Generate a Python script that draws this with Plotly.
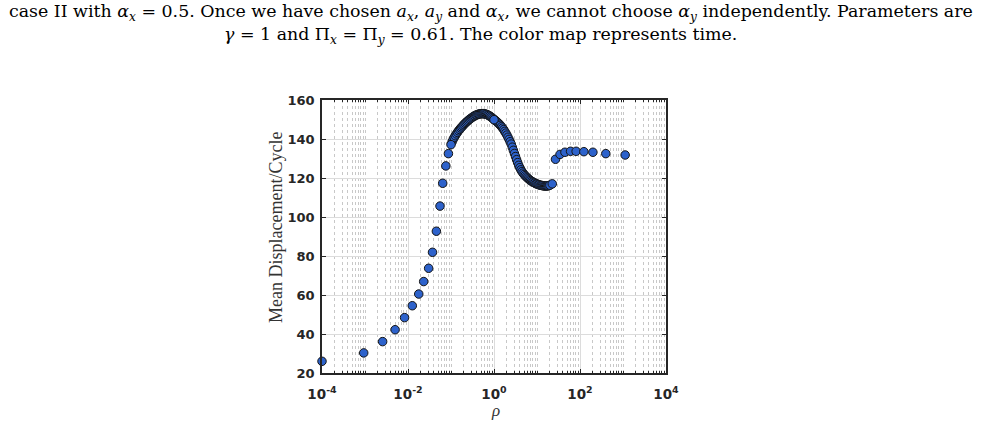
import plotly.graph_objects as go

# ---- data ----
# coarse / isolated points: log10(rho) and mean displacement per cycle
coarse_log_rho = [-4.0, -3.03, -2.59, -2.30, -2.08, -1.90, -1.75, -1.635, -1.52, -1.43,
                  -1.34, -1.256, -1.193, -1.12, -1.06, -1.0, 0.0, 1.355,
                  1.43, 1.535, 1.65, 1.78, 1.91, 2.09, 2.30, 2.60, 3.05]
coarse_disp = [26.0, 30.3, 36.1, 42.2, 48.4, 54.5, 60.5, 66.9, 73.7, 81.9,
               92.7, 105.6, 117.3, 126.2, 132.5, 137.1, 149.9, 117.0,
               129.6, 132.1, 133.2, 133.7, 133.7, 133.5, 133.2, 132.5, 131.8]

# dense part of the sweep
dense_log_rho = [-0.975, -0.95, -0.925, -0.9, -0.875, -0.85, -0.825, -0.8, -0.775, -0.75,
                 -0.725, -0.7, -0.675, -0.65, -0.625, -0.6, -0.575, -0.55, -0.525, -0.5,
                 -0.475, -0.45, -0.425, -0.4, -0.375, -0.35, -0.325, -0.3, -0.275, -0.25,
                 -0.225, -0.2, -0.175, -0.15, -0.125, -0.1, -0.075, -0.05, -0.025, 0.0,
                 0.025, 0.05, 0.075, 0.1, 0.125, 0.15, 0.175, 0.2, 0.225, 0.25,
                 0.275, 0.3, 0.325, 0.35, 0.375, 0.4, 0.425, 0.45, 0.475, 0.5,
                 0.525, 0.55, 0.575, 0.6, 0.625, 0.65, 0.675, 0.7, 0.725, 0.75,
                 0.775, 0.8, 0.825, 0.85, 0.875, 0.9, 0.925, 0.95, 0.975, 1.0,
                 1.025, 1.05, 1.075, 1.1, 1.125, 1.15, 1.175, 1.2, 1.225, 1.25,
                 1.275, 1.3]
dense_disp = [138.5, 139.8, 140.8, 141.7, 142.6, 143.4, 144.2, 144.9, 145.6, 146.2,
              146.8, 147.4, 148.0, 148.5, 149.0, 149.5, 150.0, 150.4, 150.8, 151.2,
              151.6, 151.9, 152.2, 152.4, 152.6, 152.8, 152.9, 153.0, 153.0, 153.0,
              152.9, 152.8, 152.6, 152.4, 152.1, 151.8, 151.4, 151.0, 150.5, 150.0,
              149.6, 149.2, 148.7, 148.2, 147.6, 147.0, 146.3, 145.6, 144.8, 143.9,
              143.0, 142.0, 140.9, 139.8, 138.6, 137.4, 135.8, 134.2, 132.6, 131.0,
              129.4, 127.9, 126.5, 125.3, 124.2, 123.3, 122.5, 121.8, 121.2, 120.6,
              120.1, 119.6, 119.1, 118.7, 118.3, 118.0, 117.7, 117.4, 117.1, 116.9,
              116.7, 116.5, 116.3, 116.2, 116.1, 116.0, 115.9, 115.9, 115.9, 116.0,
              116.1, 116.3]

y_ticks = [20, 40, 60, 80, 100, 120, 140, 160]
x_tick_exps = [-4, -2, 0, 2, 4]

caption_line1 = ("case II with <i>α<sub>x</sub></i> = 0.5. Once we have chosen "
                 "<i>a<sub>x</sub></i>, <i>a<sub>y</sub></i> and <i>α<sub>x</sub></i>, "
                 "we cannot choose <i>α<sub>y</sub></i> independently. Parameters are")
caption_line2 = ("<i>γ</i> = 1 and Π<sub><i>x</i></sub> = Π<sub><i>y</i></sub> = 0.61. "
                 "The color map represents time.")
y_title = "Mean Displacement/Cycle"
x_title = "<i>ρ</i>"

dense_rho = [10 ** e for e in dense_log_rho]
coarse_rho = [10 ** e for e in coarse_log_rho]

fill = "#2D62CB"
edge = "#141414"

fig = go.Figure()
fig.add_trace(go.Scatter(x=dense_rho, y=dense_disp, mode="markers", cliponaxis=False,
                         marker=dict(size=8.5, color=fill, line=dict(color=edge, width=1)),
                         showlegend=False, hoverinfo="x+y"))
fig.add_trace(go.Scatter(x=coarse_rho, y=coarse_disp, mode="markers", cliponaxis=False,
                         marker=dict(size=8.5, color=fill, line=dict(color=edge, width=1)),
                         showlegend=False, hoverinfo="x+y"))

axis_col = "#262626"
tickfont = dict(family="DejaVu Sans", size=13, color=axis_col, weight="bold")

fig.update_xaxes(type="log", range=[-4, 4],
                 tickvals=[10 ** e for e in x_tick_exps],
                 ticktext=[f"10<sup>{e}</sup>" for e in x_tick_exps],
                 tickfont=dict(family="DejaVu Sans", size=13.5, color=axis_col, weight="bold"),
                 ticks="inside", ticklen=4, tickwidth=1, tickcolor=axis_col,
                 ticklabelstandoff=8,
                 showline=True, linecolor=axis_col, linewidth=1.5, mirror="ticks",
                 showgrid=True, gridcolor="#DCDCDC", gridwidth=1,
                 minor=dict(dtick="D1", ticks="inside", ticklen=2, tickcolor=axis_col,
                            showgrid=True, gridcolor="#C8C8C8", griddash="dot", gridwidth=1),
                 zeroline=False)
fig.update_yaxes(range=[20, 160], tickvals=y_ticks,
                 tickfont=tickfont, ticks="inside", ticklen=4, tickwidth=1, tickcolor=axis_col,
                 ticklabelstandoff=3,
                 showline=True, linecolor=axis_col, linewidth=1.5, mirror="ticks",
                 showgrid=True, gridcolor="#DCDCDC", gridwidth=1, zeroline=False)

cap_font = dict(family="DejaVu Serif", size=17.4, color="#000000")
serif = "Liberation Serif"
fig.update_layout(
    width=983, height=425,
    margin=dict(l=322, r=317, t=100, b=52),
    paper_bgcolor="white", plot_bgcolor="white",
    annotations=[
        dict(text=caption_line1, x=0.4927, y=1.322, xref="paper", yref="paper",
             xanchor="center", yanchor="middle", showarrow=False, font=cap_font),
        dict(text=caption_line2, x=0.462, y=1.238, xref="paper", yref="paper",
             xanchor="center", yanchor="middle", showarrow=False, font=cap_font),
        dict(text=y_title, x=-0.1337, y=0.531, xref="paper", yref="paper",
             xanchor="center", yanchor="middle", textangle=-90, showarrow=False,
             font=dict(family=serif, size=18, color="#333333")),
        dict(text=x_title, x=0.503, y=-0.139, xref="paper", yref="paper",
             xanchor="center", yanchor="middle", showarrow=False,
             font=dict(family=serif, size=17, color="#333333")),
    ],
)

fig.write_html("out.html")
